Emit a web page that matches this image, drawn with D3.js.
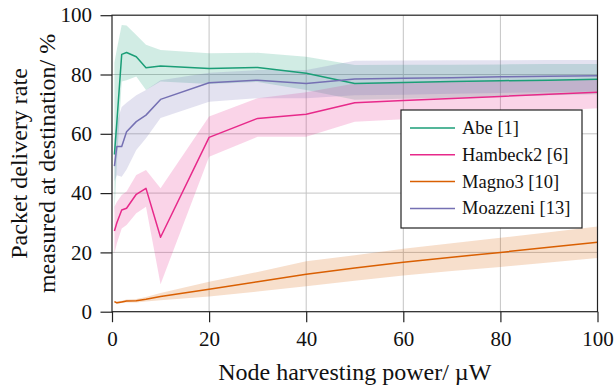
<!DOCTYPE html>
<html>
<head>
<meta charset="utf-8">
<script src="https://cdn.jsdelivr.net/npm/d3@7"></script>
<style>
  body { margin: 0; background: #fff; }
</style>
</head>
<body>
<div id="pdrchart"></div>
<script>
// harvesting power on the x axis (µW)
const power = [0.5, 1, 2, 3, 5, 7, 10, 20, 30, 40, 50, 60, 70, 80, 90, 100];

// Abe [1]
const abeMean = [53, 64, 86.8, 87.4, 86, 82.3, 82.9, 82, 82.4, 80.4, 77, 77.3, 77.6, 77.9, 78.1, 78.4];
const abeHigh = [84, 88.5, 96.7, 96.5, 93.3, 90, 88.3, 87.2, 87.3, 86, 83.2, 83.3, 83.3, 83.4, 83.5, 83.5];
const abeLow = [33, 50, 77.6, 78.1, 79.3, 74.8, 77.6, 76.8, 77.5, 74.8, 71.5, 71.8, 72.2, 72.6, 73, 73.3];

// Hambeck2 [6]
const hamMean = [27.2, 30, 34.3, 34.9, 39.6, 41.6, 25.1, 58.8, 65.2, 66.6, 70.5, 71.2, 71.9, 72.6, 73.3, 74];
const hamHigh = [35.4, 37, 39.4, 40.5, 46.1, 47.8, 41.6, 65.8, 72, 74, 77, 77.3, 77.6, 77.9, 78.2, 78.5];
const hamLow = [19.7, 23, 28.1, 29.2, 33.2, 35.4, 9.3, 52.3, 59, 59, 64.1, 64.9, 65.8, 66.8, 67.7, 68.6];

// Magno3 [10]
const magMean = [3.4, 3.0, 3.3, 3.6, 3.7, 4.2, 5.1, 7.6, 10.1, 12.6, 14.7, 16.7, 18.4, 20.0, 21.7, 23.4];
const magHigh = [3.7, 3.4, 3.7, 4.1, 4.3, 5.0, 6.3, 10.1, 13.4, 17.0, 19.0, 21.2, 23.1, 24.9, 26.8, 28.7];
const magLow = [3.1, 2.6, 2.9, 3.1, 3.1, 3.4, 3.9, 5.1, 6.8, 8.6, 10.4, 12.2, 13.7, 15.1, 16.6, 18.1];

// Moazzeni [13]
const mozMean = [49.1, 55.7, 55.7, 60.7, 64.1, 66.3, 71.6, 77.2, 78.1, 77, 78.5, 78.7, 78.9, 79.2, 79.4, 79.6];
const mozHigh = [58, 64, 69, 70.5, 73, 74.8, 78.1, 80.6, 81.5, 81.5, 84.6, 84.7, 84.8, 84.8, 84.9, 84.9];
const mozLow = [44, 46, 45.5, 48, 54.5, 58.5, 65.3, 70.8, 72, 72, 73, 73.2, 73.5, 73.8, 74, 74.3];

const seriesNames = ["Abe [1]", "Hambeck2 [6]", "Magno3 [10]", "Moazzeni [13]"];
const seriesColors = ["#1b9e77", "#e7298a", "#d95f02", "#7570b3"];

const xTicks = [0, 20, 40, 60, 80, 100];
const yTicks = [0, 20, 40, 60, 80, 100];
const xTitle = "Node harvesting power/ µW";
const yTitle = ["Packet delivery rate", "measured at destination/ %"];

const FONT = "'Liberation Serif'";

class PdrChart {
    constructor() {
        this.width = 615;
        this.height = 387;
        // plot box in pixels
        this.margin = { top: 15.2, right: 17.5, bottom: 75.3, left: 112 };
        this.initializeChart();
        this.drawChart();
    }

    initializeChart() {
        const m = this.margin;
        this.xScale = d3.scaleLinear().domain([0, 100]).range([m.left, this.width - m.right]);
        this.yScale = d3.scaleLinear().domain([0, 100]).range([this.height - m.bottom, m.top]);

        const means = [abeMean, hamMean, magMean, mozMean];
        const highs = [abeHigh, hamHigh, magHigh, mozHigh];
        const lows = [abeLow, hamLow, magLow, mozLow];
        this.series = seriesNames.map((name, s) => ({
            name: name,
            color: seriesColors[s],
            points: power.map((p, i) => ({ x: p, y: means[s][i], lo: lows[s][i], hi: highs[s][i] }))
        }));
    }

    drawChart() {
        const x = this.xScale, y = this.yScale;
        const svg = d3.select("#pdrchart").append("svg")
            .attr("width", this.width)
            .attr("height", this.height)
            .style("font-family", FONT);

        // grid
        const grid = svg.append("g").attr("stroke", "#c4c4c4").attr("stroke-width", 1);
        grid.selectAll(".gx").data(xTicks.slice(1, -1)).join("line")
            .attr("x1", d => x(d)).attr("x2", d => x(d))
            .attr("y1", y(0)).attr("y2", y(100));
        grid.selectAll(".gy").data(yTicks.slice(1, -1)).join("line")
            .attr("y1", d => y(d)).attr("y2", d => y(d))
            .attr("x1", x(0)).attr("x2", x(100));

        // shaded bands first, then the lines on top
        const area = d3.area()
            .x(d => x(d.x))
            .y0(d => y(d.lo))
            .y1(d => y(d.hi));
        const line = d3.line()
            .x(d => x(d.x))
            .y(d => y(d.y));

        svg.append("g").selectAll("path").data(this.series).join("path")
            .attr("d", d => area(d.points))
            .attr("fill", d => d.color)
            .attr("fill-opacity", 0.2);

        svg.append("g").selectAll("path").data(this.series).join("path")
            .attr("d", d => line(d.points))
            .attr("fill", "none")
            .attr("stroke", d => d.color)
            .attr("stroke-width", 1.5)
            .attr("stroke-linejoin", "round");

        // axes: ticks point outwards, box drawn separately
        const xAxis = svg.append("g")
            .attr("transform", "translate(0," + y(0) + ")")
            .call(d3.axisBottom(x).tickValues(xTicks).tickSize(10.5).tickSizeOuter(0).tickPadding(8.5));
        const yAxis = svg.append("g")
            .attr("transform", "translate(" + x(0) + ",0)")
            .call(d3.axisLeft(y).tickValues(yTicks).tickSize(11.5).tickSizeOuter(0).tickPadding(8.5));
        [xAxis, yAxis].forEach(g => {
            g.attr("font-family", null).attr("font-size", null);
            g.select(".domain").remove();
            g.selectAll(".tick line").attr("stroke", "#222").attr("stroke-width", 1.2);
            g.selectAll(".tick text")
                .style("font-family", FONT)
                .style("font-size", "21px")
                .attr("fill", "#111");
        });

        svg.append("rect")
            .attr("x", x(0)).attr("y", y(100))
            .attr("width", x(100) - x(0)).attr("height", y(0) - y(100))
            .attr("fill", "none").attr("stroke", "#222").attr("stroke-width", 1.2);

        // titles
        svg.append("text")
            .attr("x", (x(0) + x(100)) / 2).attr("y", 380)
            .attr("text-anchor", "middle")
            .style("font-family", FONT)
            .style("font-size", "24px")
            .attr("fill", "#111")
            .text(xTitle);

        const yt = svg.append("g")
            .attr("transform", "translate(0," + (y(0) + y(100)) / 2 + ") rotate(-90)");
        yt.selectAll("text").data(yTitle).join("text")
            .attr("x", 0).attr("y", (d, i) => 27 + i * 28)
            .attr("text-anchor", "middle")
            .style("font-family", FONT)
            .style("font-size", "24px")
            .attr("fill", "#111")
            .text(d => d);

        // legend
        const lg = svg.append("g").attr("transform", "translate(401,110)");
        lg.append("rect").attr("width", 181).attr("height", 118)
            .attr("fill", "#fff").attr("stroke", "#222").attr("stroke-width", 1.2);
        const row = lg.selectAll(".row").data(this.series).join("g")
            .attr("transform", (d, i) => "translate(0," + (18 + i * 26.8) + ")");
        row.append("line").attr("x1", 9).attr("x2", 54)
            .attr("stroke", d => d.color).attr("stroke-width", 1.5);
        row.append("text").attr("x", 61).attr("y", 6)
            .style("font-family", FONT)
            .style("font-size", "18.5px")
            .attr("fill", "#111")
            .text(d => d.name);
    }
}

new PdrChart();
</script>
</body>
</html>
